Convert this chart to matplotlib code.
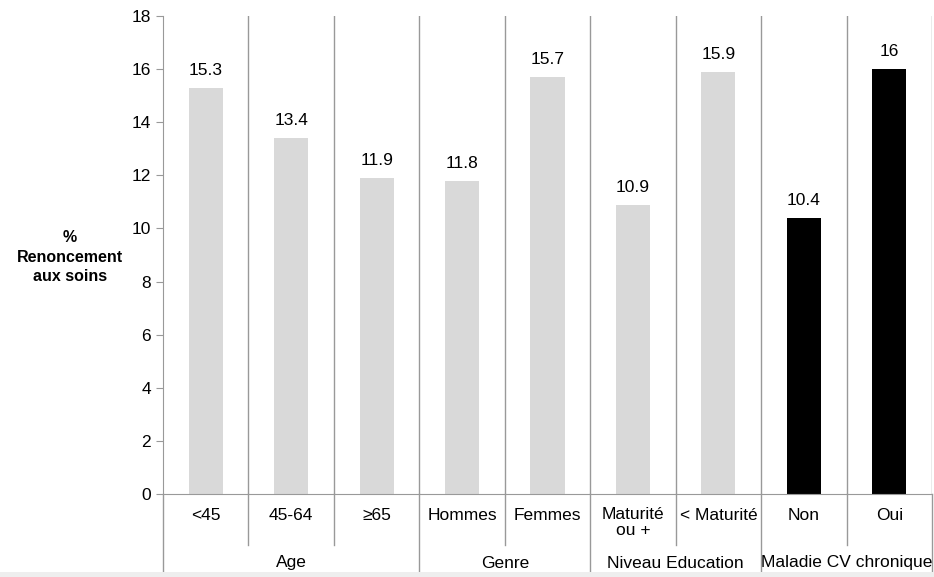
import matplotlib
matplotlib.use("Agg")
import matplotlib.pyplot as plt
from matplotlib.patches import Rectangle

categories = ["<45", "45-64", "\u226565", "Hommes", "Femmes", "Maturit\u00e9\nou +", "< Maturit\u00e9", "Non", "Oui"]
values = [15.3, 13.4, 11.9, 11.8, 15.7, 10.9, 15.9, 10.4, 16]
value_labels = ["15.3", "13.4", "11.9", "11.8", "15.7", "10.9", "15.9", "10.4", "16"]
groups = ["Age", "Genre", "Niveau Education", "Maladie CV chronique"]
group_sizes = [3, 2, 2, 2]
bar_colors = ["#D9D9D9"] * 7 + ["#000000"] * 2
yticks = [0, 2, 4, 6, 8, 10, 12, 14, 16, 18]

plt.rcParams['font.family'] = ['Liberation Sans', 'DejaVu Sans']
W, H = 934, 577
fig = plt.figure(figsize=(W / 100, H / 100), dpi=100)
fig.patches.append(Rectangle((0, 0), 1, 5 / H, transform=fig.transFigure,
                             facecolor="#EEEEEE", edgecolor="none", zorder=0))

left, right, top, bottom = 163, 932, 16, 494
ax = fig.add_axes([left / W, (H - bottom) / H, (right - left) / W, (bottom - top) / H])
ax.set_xlim(0, len(categories))
ax.set_ylim(0, 18)

lc = "#999999"
x = [i + 0.5 for i in range(len(categories))]
ax.bar(x, values, width=0.4, color=bar_colors, zorder=2)
for xi, v, lab in zip(x, values, value_labels):
    ax.annotate(lab, (xi, v), xytext=(0, 7), textcoords="offset points",
                ha="center", va="bottom", fontsize=12.5, color="#000000")

for s in ["top", "right"]:
    ax.spines[s].set_visible(False)
ax.spines["left"].set_color(lc)
ax.spines["bottom"].set_color(lc)
ax.set_yticks(yticks)
ax.set_yticklabels([str(t) for t in yticks])
ax.tick_params(axis="y", colors=lc, labelcolor="#000000", labelsize=12.5, length=5, direction="out")
ax.set_xticks([])

py = (bottom - top) / 18.0  # pixels per unit
y_sub = -(545 - bottom) / py
y_grp = -(577 - bottom) / py

pos = 0
group_bounds = [0]
for gs in group_sizes:
    pos += gs
    group_bounds.append(pos)

for k in range(1, len(categories) + 1):
    ax.plot([k, k], [0, 18], color=lc, lw=1, zorder=1)
for k in range(1, len(categories)):
    if k not in group_bounds:
        ax.plot([k, k], [0, y_sub], color=lc, lw=1, clip_on=False)
for k in group_bounds:
    ax.plot([k, k], [0, y_grp], color=lc, lw=1, clip_on=False)

cat_y = -(516 - bottom) / py
for xi, c in zip(x, categories):
    if "\n" in c:
        ax.text(xi, -(507 - bottom) / py, c, ha="center", va="top", fontsize=12.5, linespacing=1.1)
    else:
        ax.text(xi, cat_y, c, ha="center", va="center", fontsize=12.5)

grp_y = -(563 - bottom) / py
for g, a, b in zip(groups, group_bounds[:-1], group_bounds[1:]):
    ax.text((a + b) / 2, grp_y, g, ha="center", va="center", fontsize=12.5)

fig.text(70 / W, 1 - 257 / H, "%\nRenoncement\naux soins", ha="center", va="center",
         fontsize=11.5, fontweight="bold", linespacing=1.35)

fig.savefig("out.png", dpi=100)
